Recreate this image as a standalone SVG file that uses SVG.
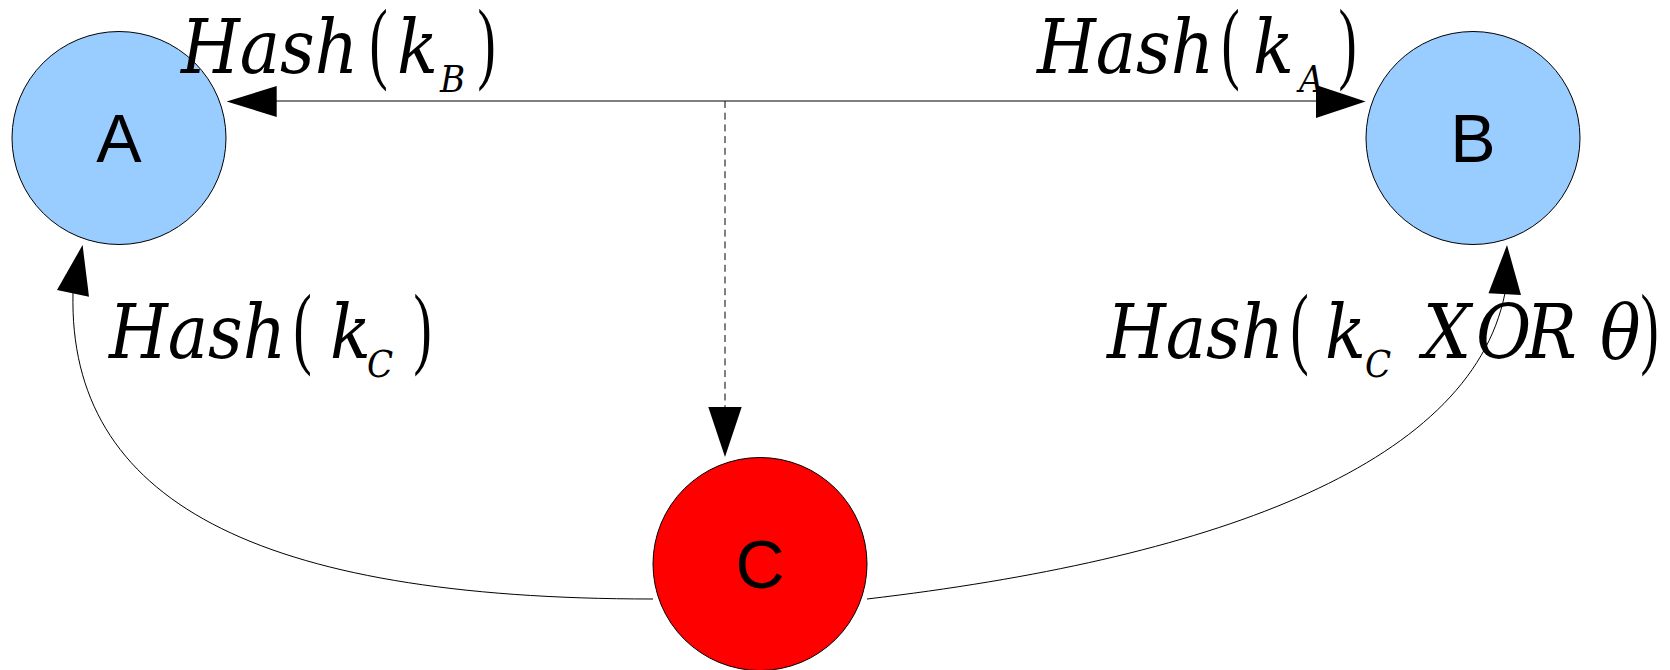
<svg xmlns="http://www.w3.org/2000/svg" width="1670" height="670" viewBox="0 0 1670 670">
<style>
.node{stroke:#000;stroke-width:1}
.blue{fill:#99ccff}
.red{fill:#ff0000}
.lbl{font-family:"Liberation Sans",Arial,sans-serif;font-size:68px;fill:#000;text-anchor:middle}
.m{font-family:"DejaVu Serif Condensed","DejaVu Serif",serif;font-style:italic;font-stretch:condensed;font-size:75px;fill:#000}
.s{font-size:38px}
.par{font-family:"Liberation Serif","Times New Roman",serif;font-size:91px;fill:#000}
.ln{fill:none;stroke:#000;stroke-width:1}
.dash{stroke-dasharray:7 4.7}
.head{fill:#000;stroke:none}
</style>
<rect width="1670" height="670" fill="#fff"/>
<g id="connectors">
<line class="ln" x1="270" y1="101" x2="1322" y2="101"/>
<polygon class="head" points="226.7,101.5 276.7,86 276.7,117"/>
<polygon class="head" points="1365.6,101.5 1316,85 1316,118"/>
<line class="ln dash" x1="725" y1="101" x2="725" y2="408"/>
<polygon class="head" points="725,457 708.3,407 741.7,407"/>
<path class="ln" d="M653,599 C257,599 68,501 73,293"/>
<polygon class="head" points="82.6,245 57,290 89,296.7"/>
<path class="ln" d="M867,599 C1200,560 1470,470 1505,293"/>
<polygon class="head" points="1507,245 1488.5,293.3 1521,295"/>
</g>
<g id="node-A">
<ellipse class="node blue" cx="119" cy="138" rx="107" ry="106.5"/>
<text class="lbl" x="119" y="162">A</text>
</g>
<g id="node-B">
<ellipse class="node blue" cx="1473" cy="138" rx="107" ry="106.5"/>
<text class="lbl" x="1473" y="162">B</text>
</g>
<g id="node-C">
<ellipse class="node red" cx="760" cy="564" rx="107" ry="106.5"/>
<text class="lbl" x="760" y="588">C</text>
</g>
<g id="label-kB">
<text class="m"><tspan x="181" y="73">Hash</tspan><tspan x="397" y="73">k</tspan><tspan class="s" x="440" y="92">B</tspan></text>
<text class="par" transform="translate(369.4,72) scale(0.6,1)">(</text>
<text class="par" transform="translate(477.4,72) scale(0.6,1)">)</text>
</g>
<g id="label-kA">
<text class="m"><tspan x="1037" y="73">Hash</tspan><tspan x="1253" y="73">k</tspan><tspan class="s" x="1299" y="92">A</tspan></text>
<text class="par" transform="translate(1221.4,72) scale(0.6,1)">(</text>
<text class="par" transform="translate(1338.4,72) scale(0.6,1)">)</text>
</g>
<g id="label-kC">
<text class="m"><tspan x="109" y="358">Hash</tspan><tspan x="330" y="358">k</tspan><tspan class="s" x="367" y="377">C</tspan></text>
<text class="par" transform="translate(293.4,357) scale(0.6,1)">(</text>
<text class="par" transform="translate(413.4,357) scale(0.6,1)">)</text>
</g>
<g id="label-kCxor">
<text class="m"><tspan x="1107" y="358">Hash</tspan><tspan x="1325" y="358">k</tspan><tspan class="s" x="1365" y="377">C</tspan><tspan x="1423" y="358">X</tspan><tspan x="1476" y="358">O</tspan><tspan x="1526" y="358">R</tspan><tspan x="1600" y="358">θ</tspan></text>
<text class="par" transform="translate(1290.4,357) scale(0.6,1)">(</text>
<text class="par" transform="translate(1640.4,357) scale(0.6,1)">)</text>
</g>
</svg>
